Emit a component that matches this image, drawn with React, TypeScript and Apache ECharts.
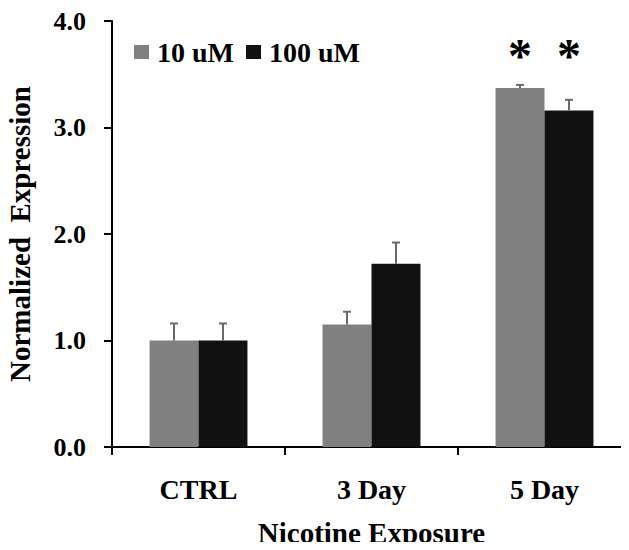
import React, { useEffect, useRef } from "react";
import * as echarts from "echarts";

const categories = ["CTRL", "3 Day", "5 Day"];
const seriesNames = ["10 uM", "100 uM"];
const values10 = [1.0, 1.15, 3.37];
const errors10 = [0.16, 0.12, 0.03];
const values100 = [1.0, 1.72, 3.16];
const errors100 = [0.16, 0.2, 0.1];
const sig10 = ["", "", "*"];
const sig100 = ["", "", "*"];
const sigLevel = 3.68;
const yTicks = [0, 1, 2, 3, 4];

const FONT = "'Liberation Serif', 'Times New Roman', serif";
const BAR_W = 0.283;

function errSeries(name: string, vals: number[], errs: number[], sigs: string[], side: number) {
  return {
    type: "custom",
    name: name + " err",
    silent: true,
    z: 5,
    data: vals.map((v, i) => [i, v, v + errs[i], sigs[i] ? 1 : 0]),
    encode: { x: 0, y: 2 },
    renderItem: (params: any, api: any) => {
      const i = api.value(0);
      const v = api.value(1);
      const top = api.value(2);
      const hasSig = api.value(3);
      const bw = api.size([1, 0])[0];
      const base = api.coord([i, v]);
      const tp = api.coord([i, top]);
      const x = base[0] + side * bw * BAR_W / 2;
      const children: any[] = [
        { type: "line", shape: { x1: x, y1: base[1], x2: x, y2: tp[1] }, style: { stroke: "#6a6a6a", lineWidth: 2 } },
        { type: "line", shape: { x1: x - 4, y1: tp[1], x2: x + 4, y2: tp[1] }, style: { stroke: "#6a6a6a", lineWidth: 2 } },
      ];
      if (hasSig) {
        const sp = api.coord([i, sigLevel]);
        children.push({
          type: "text",
          x,
          y: sp[1],
          style: {
            text: "*",
            fontFamily: FONT,
            fontWeight: "bold",
            fontSize: 48,
            fill: "#000",
            align: "center",
            verticalAlign: "middle",
          },
        });
      }
      return { type: "group", children };
    },
  };
}

export default function App() {
  const ref = useRef<HTMLDivElement>(null);
  useEffect(() => {
    if (!ref.current) return;
    const chart = echarts.init(ref.current, null, { renderer: "svg" });
    chart.setOption({
      animation: false,
      backgroundColor: "#fff",
      textStyle: { fontFamily: FONT },
      grid: { left: 112, right: -2, top: 21, bottom: 103, containLabel: false, outerBoundsMode: "none" },
      legend: {
        left: 129,
        top: 33,
        icon: "rect",
        itemWidth: 15,
        itemHeight: 14,
        itemGap: 12,
        data: seriesNames,
        textStyle: { fontFamily: FONT, fontWeight: "bold", fontSize: 28, color: "#000", padding: [0, 0, 0, 3] },
      },
      xAxis: {
        type: "category",
        data: categories,
        name: "Nicotine Exposure",
        nameLocation: "middle",
        nameGap: 71,
        nameTextStyle: { fontFamily: FONT, fontWeight: "bold", fontSize: 29, color: "#000" },
        axisLine: { lineStyle: { color: "#000", width: 2 } },
        axisTick: { show: true, length: 8, lineStyle: { color: "#000", width: 2 }, alignWithLabel: false },
        axisLabel: { margin: 28, fontFamily: FONT, fontWeight: "bold", fontSize: 28, color: "#000" },
      },
      yAxis: {
        type: "value",
        min: 0,
        max: 4,
        interval: 1,
        name: "Normalized  Expression",
        nameLocation: "middle",
        nameGap: 78,
        nameRotate: 90,
        nameTextStyle: { fontFamily: FONT, fontWeight: "bold", fontSize: 29, color: "#000" },
        axisLine: { show: true, lineStyle: { color: "#000", width: 2 } },
        axisTick: { show: true, length: 8, lineStyle: { color: "#000", width: 2 } },
        splitLine: { show: false },
        axisLabel: {
          margin: 26,
          fontFamily: FONT,
          fontWeight: "bold",
          fontSize: 26,
          color: "#000",
          formatter: (v: number) => (yTicks.includes(v) ? v.toFixed(1) : ""),
        },
      },
      series: [
        {
          type: "bar",
          name: seriesNames[0],
          data: values10,
          barWidth: (BAR_W * 100) + "%",
          barGap: "0%",
          itemStyle: { color: "#808080" },
        },
        {
          type: "bar",
          name: seriesNames[1],
          data: values100,
          barWidth: (BAR_W * 100) + "%",
          barGap: "0%",
          itemStyle: { color: "#111111" },
        },
        errSeries(seriesNames[0], values10, errors10, sig10, -1),
        errSeries(seriesNames[1], values100, errors100, sig100, 1),
      ],
    });
    return () => chart.dispose();
  }, []);
  return <div ref={ref} style={{ width: 629, height: 550, margin: -8 }} />;
}
